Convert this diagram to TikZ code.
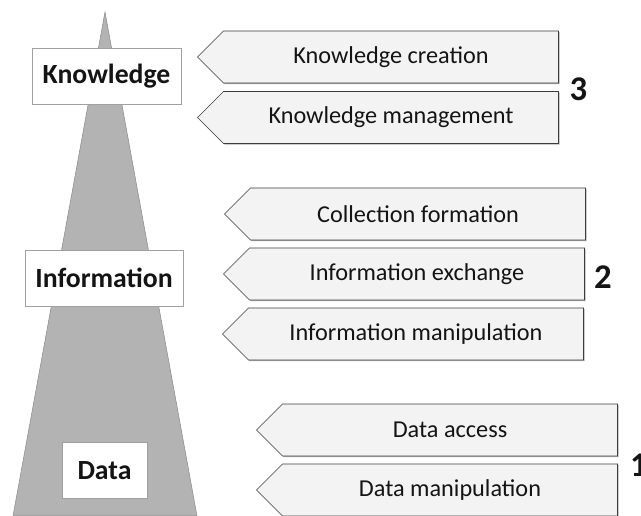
\documentclass[tikz,border=0pt]{standalone}
\usepackage{fontspec}
\setmainfont{Carlito}
\usetikzlibrary{shapes.symbols}
\usetikzlibrary{shadows}

\definecolor{pyrfill}{RGB}{179,179,179}
\definecolor{pyredge}{RGB}{140,140,140}
\definecolor{boxedge}{RGB}{160,160,160}
\definecolor{taskfill}{RGB}{243,243,243}
\definecolor{taskedge}{RGB}{60,60,60}
\definecolor{ink}{RGB}{20,20,20}

\begin{document}
\begin{tikzpicture}[x=0.75pt,y=-0.75pt]
	\tikzstyle{level} = [rectangle, draw=boxedge, fill=white, minimum height=42pt, inner sep=0pt, text=ink, font=\bfseries\fontsize{20.8}{25}\selectfont]
	\tikzstyle{task} = [signal, signal to=west, signal pointer angle=90, draw=taskedge, fill=taskfill, minimum width=270.75pt, minimum height=39pt, inner sep=0pt, text=ink, font=\fontsize{18.2}{22}\selectfont, drop shadow={shadow xshift=0.8pt, shadow yshift=-0.8pt, fill=black, opacity=0.3}]
	\tikzstyle{num} = [text=ink, font=\bfseries\fontsize{26}{31}\selectfont]
	\useasboundingbox (0,0) rectangle (641,516);

	\filldraw[fill=pyrfill, draw=pyredge] (105,12) -- (197,516) -- (13,516) -- cycle;

	\node (know) [level, minimum width=111.75pt] at (106.5,76) {Knowledge};
	\node (info) [level, minimum width=118.5pt] at (104,278) {Information};
	\node (data) [level, minimum width=63.75pt] at (104.5,470.5) {Data};

	\node (kcreate) [task] at (391,57) {Knowledge creation};
	\node (kmanage) [task] at (391,117.5) {Knowledge management};
	\node (colform) [task] at (418,214) {Collection formation};
	\node (iexchange) [task] at (417,274) {Information exchange};
	\node (imanip) [task] at (416,334) {Information manipulation};
	\node (daccess) [task] at (450,430) {Data access};
	\node (dmanip) [task] at (450,490) {Data manipulation};

	\node (three) [num] at (578.5,89.5) {3};
	\node (two) [num] at (603,277) {2};
	\node (one) [num] at (639,465) {1};
\end{tikzpicture}
\end{document}
